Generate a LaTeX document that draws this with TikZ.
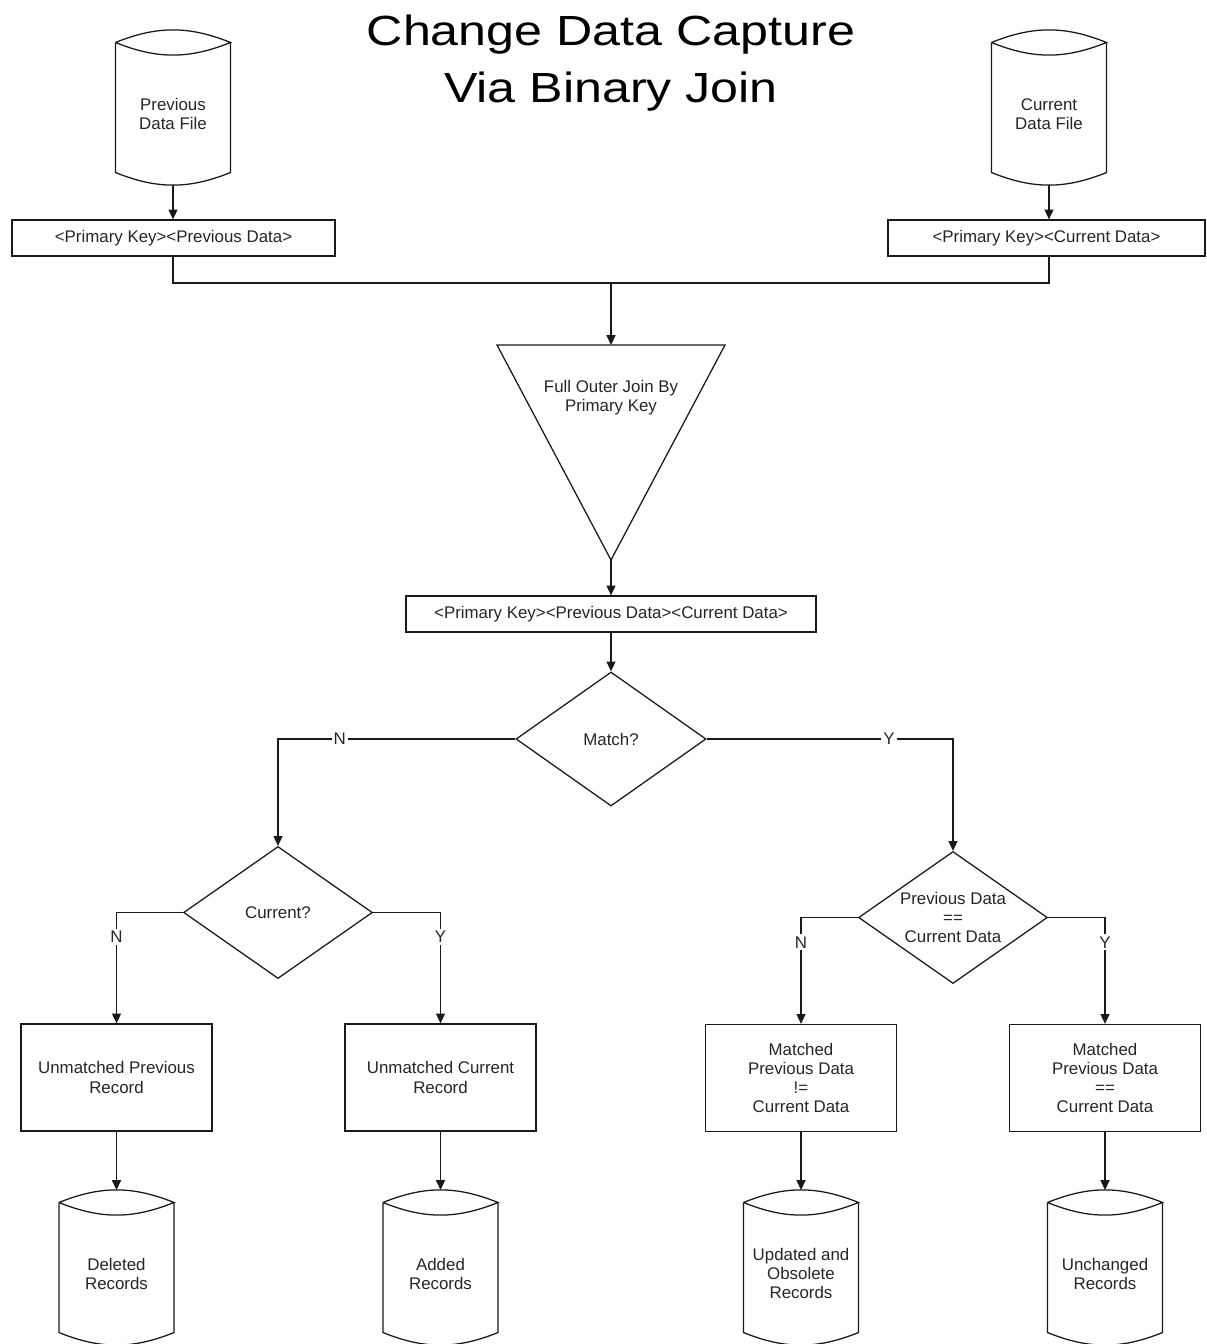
\documentclass[tikz,border=0pt]{standalone}
\usepackage{graphicx}
\usepackage{fontspec}
\setmainfont{Liberation Sans}
\usetikzlibrary{shapes.geometric,arrows.meta}

\tikzset{
  ink/.style={draw=black!90, line width=0.9pt},
  keybox/.style={ink, rectangle, minimum height=0.9cm, inner sep=0pt},
  procbox/.style={ink, rectangle, minimum width=4.775cm, minimum height=2.675cm, align=center, inner sep=0pt},
  decision/.style={ink, diamond, aspect=1.42, minimum width=4.72cm, minimum height=3.3cm, align=center, inner sep=0pt},
  store/.style={rectangle, minimum width=2.875cm, minimum height=3.5625cm, align=center, inner sep=0pt, outer sep=0pt},
  yn/.style={fill=white, inner sep=1.5pt},
}

% data store outline round a store node, with (name-top) at its peak
\newcommand\storeoutline[1]{%
  \draw[ink] (#1.north west) to[bend left=22] (#1.north east)
    to[bend left=22] (#1.north west);
  \draw[ink] (#1.north west) -- ([yshift=0.3125cm]#1.south west)
    to[bend right=22] ([yshift=0.3125cm]#1.south east) -- (#1.north east);
  \coordinate (#1-top) at ([yshift=0.3125cm]#1.north);
}

\begin{document}
\begin{tikzpicture}[x=0.025cm, y=-0.025cm, >={Triangle[length=7pt,width=6.4pt]},
    font={\fontsize{12}{13.6}\selectfont}, text=black!85]
  \useasboundingbox (0,0) rectangle (1206,1344);

  \node[align=center, text=black, font={\fontsize{30}{40.5}\selectfont}] (title) at (611,63.5)
    {\scalebox{1.19}[1]{Change Data Capture}\\\scalebox{1.19}[1]{Via Binary Join}};

  % input files
  \node[store] (prevfile) at (173,113.75) {Previous\\Data File};
  \storeoutline{prevfile}
  \node[store] (curfile) at (1049,113.75) {Current\\Data File};
  \storeoutline{curfile}

  \node[keybox, minimum width=8.075cm] (prevkey) at (173.5,238) {<Primary Key><Previous Data>};
  \node[keybox, minimum width=7.925cm] (curkey) at (1046.5,238) {<Primary Key><Current Data>};
  \draw[ink,->] (prevfile.south) -- (prevfile.south |- prevkey.north);
  \draw[ink,->] (curfile.south) -- (curfile.south |- curkey.north);

  % join
  \coordinate (jn) at (611,283);
  \coordinate (jleft) at (497,345);
  \coordinate (jright) at (725,345);
  \coordinate (jtop) at (611,345);
  \coordinate (jbot) at (611,560);
  \draw[ink] (prevfile |- prevkey.south) |- (jn) -| (curfile |- curkey.south);
  \draw[ink,->] (jn) -- (jtop);
  \draw[ink] (jleft) -- (jright) -- (jbot) -- cycle;
  \node[align=center] (join) at (611,398) {Full Outer Join By\\Primary Key};

  \node[keybox, minimum width=10.25cm] (allkey) at (611,614) {<Primary Key><Previous Data><Current Data>};
  \draw[ink,->] (jbot) -- (allkey);

  % decisions
  \node[decision, minimum width=4.75cm, minimum height=3.35cm] (match) at (611,739) {Match?};
  \node[decision] (current) at (278,912.5) {Current?};
  \node[decision] (prevcur) at (953,917.5) {Previous Data\\==\\Current Data};
  \draw[ink,->] (allkey) -- (match);
  \draw[ink,->] (match.west) -| node[yn,pos=0.37] {N} (current.north);
  \draw[ink,->] (match.east) -| node[yn,pos=0.37] {Y} (prevcur.north);

  % results
  \node[procbox] (unprev) at (116.5,1077.5) {Unmatched Previous\\Record};
  \node[procbox] (uncur) at (440.5,1077.5) {Unmatched Current\\Record};
  \node[procbox] (matchdiff) at (801,1078) {Matched\\Previous Data\\!=\\Current Data};
  \node[procbox] (matchsame) at (1105,1078) {Matched\\Previous Data\\==\\Current Data};
  \draw[ink,->] (current.west) -| node[yn,pos=0.61] {N} (unprev.north);
  \draw[ink,->] (current.east) -| node[yn,pos=0.61] {Y} (uncur.north);
  \draw[ink,->] (prevcur.west) -| node[yn,pos=0.617] {N} (matchdiff.north);
  \draw[ink,->] (prevcur.east) -| node[yn,pos=0.617] {Y} (matchsame.north);

  % output files
  \node[store] (delrec) at (116.5,1273.75) {Deleted\\Records};
  \storeoutline{delrec}
  \node[store] (addrec) at (440.5,1273.75) {Added\\Records};
  \storeoutline{addrec}
  \node[store] (updrec) at (801,1273.75) {Updated and\\Obsolete\\Records};
  \storeoutline{updrec}
  \node[store] (samerec) at (1105,1273.75) {Unchanged\\Records};
  \storeoutline{samerec}
  \draw[ink,->] (unprev) -- (delrec-top);
  \draw[ink,->] (uncur) -- (addrec-top);
  \draw[ink,->] (matchdiff) -- (updrec-top);
  \draw[ink,->] (matchsame) -- (samerec-top);
\end{tikzpicture}
\end{document}
